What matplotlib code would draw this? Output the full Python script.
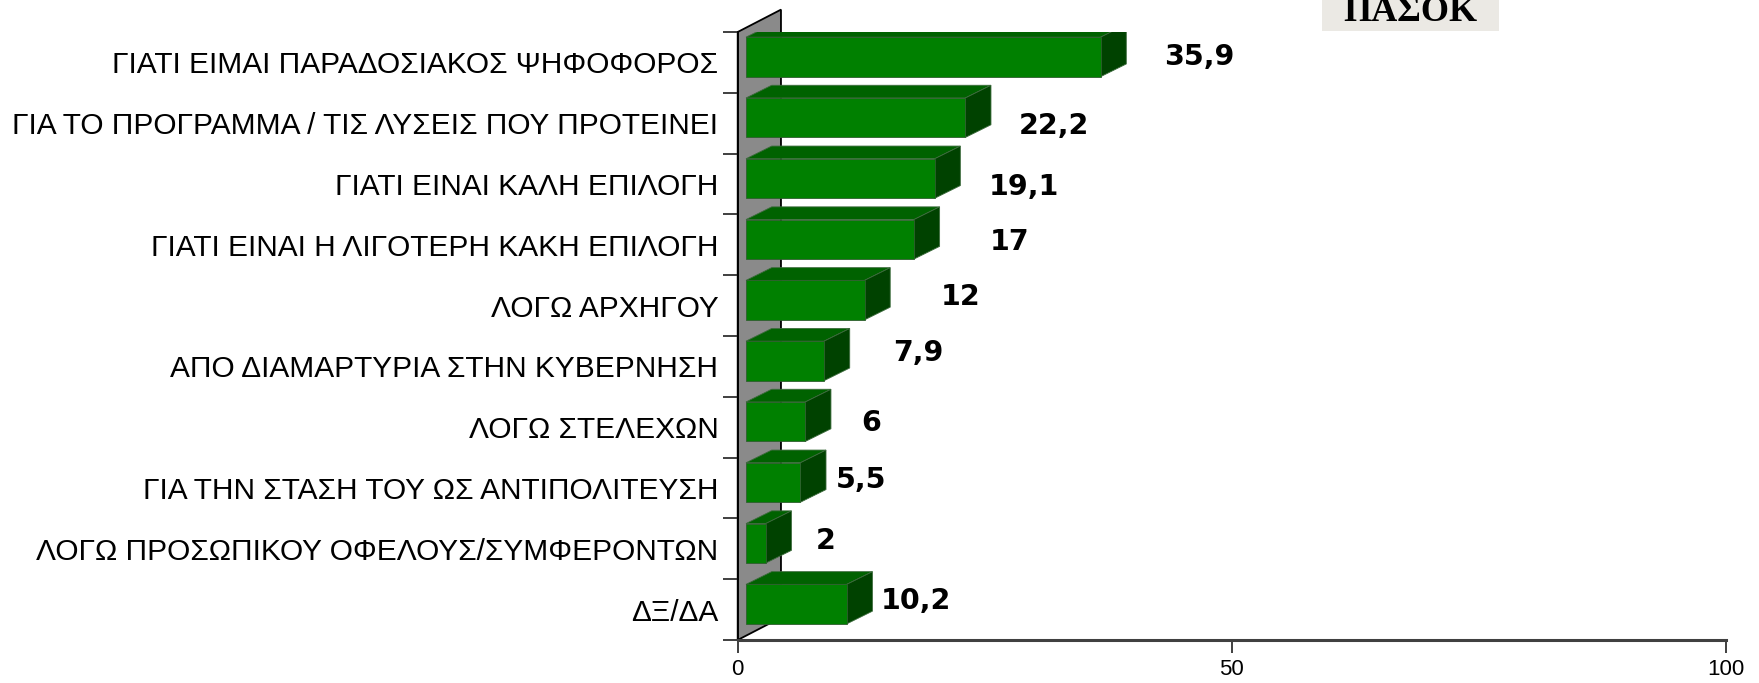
import matplotlib
matplotlib.use("Agg")
import matplotlib.pyplot as plt
from matplotlib.patches import Polygon, Rectangle
import numpy as np

reasons = [
    "ΓΙΑΤΙ ΕΙΜΑΙ ΠΑΡΑΔΟΣΙΑΚΟΣ ΨΗΦΟΦΟΡΟΣ",
    "ΓΙΑ ΤΟ ΠΡΟΓΡΑΜΜΑ / ΤΙΣ ΛΥΣΕΙΣ ΠΟΥ ΠΡΟΤΕΙΝΕΙ",
    "ΓΙΑΤΙ ΕΙΝΑΙ ΚΑΛΗ ΕΠΙΛΟΓΗ",
    "ΓΙΑΤΙ ΕΙΝΑΙ Η ΛΙΓΟΤΕΡΗ ΚΑΚΗ ΕΠΙΛΟΓΗ",
    "ΛΟΓΩ ΑΡΧΗΓΟΥ",
    "ΑΠΟ ΔΙΑΜΑΡΤΥΡΙΑ ΣΤΗΝ ΚΥΒΕΡΝΗΣΗ",
    "ΛΟΓΩ ΣΤΕΛΕΧΩΝ",
    "ΓΙΑ ΤΗΝ ΣΤΑΣΗ ΤΟΥ ΩΣ ΑΝΤΙΠΟΛΙΤΕΥΣΗ",
    "ΛΟΓΩ ΠΡΟΣΩΠΙΚΟΥ ΟΦΕΛΟΥΣ/ΣΥΜΦΕΡΟΝΤΩΝ",
    "ΔΞ/ΔΑ",
]
values = [35.9, 22.2, 19.1, 17, 12, 7.9, 6, 5.5, 2, 10.2]
value_text = ["35,9", "22,2", "19,1", "17", "12", "7,9", "6", "5,5", "2", "10,2"]
x_ticks = [0, 50, 100]

# hand placed value labels in the original: px right / px down from the bar end
label_nudge = [(38, -2), (28, 6), (28, 6), (50, 0), (51, -6),
               (43, -10), (30, -1), (10, -5), (24, -5), (8, -6)]

W, H = 1759, 683
fig = plt.figure(figsize=(W / 100, H / 100), dpi=100)
ax = fig.add_axes([737.7 / W, 43 / H, 987.8 / W, 608 / H])
ax.set_xlim(0, 100)
ax.set_ylim(0, 10)

# fake 3d geometry (data units)
wall_dx, wall_dy = 4.38, 0.368
front_dx = 0.84
depth_dx, depth_dy = 2.60, 0.209
bar_h = 0.65
lift = 0.09

wall = Polygon([(0, 0), (0, 10), (wall_dx, 10 + wall_dy), (wall_dx, wall_dy)],
               closed=True, facecolor="#8a8a8a", edgecolor="black", lw=1.3,
               clip_on=False, zorder=1)
ax.add_patch(wall)

n = len(values)
for i, v in enumerate(values):
    yc = n - 0.5 - i + lift
    x0, x1 = front_dx, front_dx + v
    y0, y1 = yc - bar_h / 2, yc + bar_h / 2
    top = Polygon([(x0, y1), (x1, y1), (x1 + depth_dx, y1 + depth_dy), (x0 + depth_dx, y1 + depth_dy)],
                  facecolor="#006200", edgecolor="#3d6b3d", lw=0.6, zorder=3)
    side = Polygon([(x1, y0), (x1 + depth_dx, y0 + depth_dy), (x1 + depth_dx, y1 + depth_dy), (x1, y1)],
                   facecolor="#004200", edgecolor="#3d6b3d", lw=0.6, zorder=3)
    front = Rectangle((x0, y0), v, bar_h, facecolor="#008000", edgecolor="#2e5e2e", lw=0.6, zorder=4)
    for p in (top, side, front):
        ax.add_patch(p)
    dx, dy = label_nudge[i]
    ax.annotate(value_text[i], xy=(x1 + depth_dx, yc), xytext=(dx * 0.72, -(dy + 10.5) * 0.72),
                textcoords="offset points", ha="left", va="baseline",
                fontsize=20.5, fontweight="heavy", family="DejaVu Sans", color="black",
                annotation_clip=False, zorder=5)

# axes styling
for s in ("top", "right"):
    ax.spines[s].set_visible(False)
ax.spines["left"].set_color("black")
ax.spines["left"].set_linewidth(1.3)
ax.spines["bottom"].set_color("#404040")
ax.spines["bottom"].set_linewidth(2.2)
ax.spines["left"].set_zorder(2)

ax.set_yticks(np.arange(0, n + 1))
ax.set_yticklabels([])
ax.tick_params(axis="y", which="major", length=10.8, width=1.3, color="#303030", direction="out")
ax.set_yticks([n - 0.5 - i for i in range(n)], minor=True)
ax.set_yticklabels(reasons, minor=True, fontsize=21.5, family="Liberation Sans")
ax.tick_params(axis="y", which="minor", length=0, pad=14)

ax.set_xticks(x_ticks)
ax.set_xticklabels([str(t) for t in x_ticks], fontsize=16, family="Liberation Sans")
ax.tick_params(axis="x", length=9.5, width=1.3, color="#303030", direction="out", pad=4)

# party logo, cropped at the top edge as in the original
lax = fig.add_axes([1322 / W, 1 - 30.7 / H, 177 / W, 30.7 / H])
lax.set_facecolor("#ebe9e4")
lax.set_xticks([])
lax.set_yticks([])
for s in lax.spines.values():
    s.set_visible(False)
lax.text(0.5, 0.33, "ΠΑΣΟΚ", transform=lax.transAxes, ha="center", va="baseline",
         fontsize=26, fontweight="bold", family="Liberation Serif", color="black", clip_on=True)

fig.savefig("out.png", dpi=100)
